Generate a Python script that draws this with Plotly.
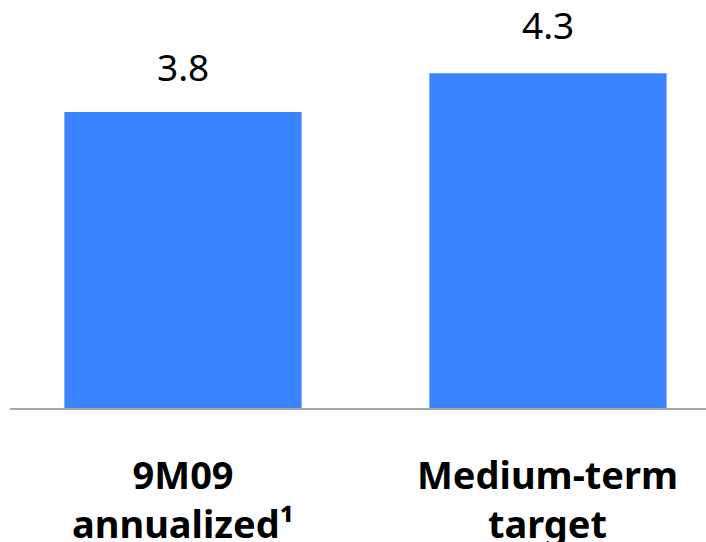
import plotly.graph_objects as go

categories = ["9M09<br>annualized¹", "Medium-term<br>target"]
values = [3.8, 4.3]
value_labels = ["3.8", "4.3"]

BAR_COLOR = "#3A83FF"
positions = list(range(len(categories)))

fig = go.Figure(
    go.Bar(
        x=positions,
        y=values,
        width=0.65,
        marker=dict(color=BAR_COLOR, line=dict(width=0)),
        hoverinfo="skip",
    )
)

# value labels above each bar
label_shift = [18, 21]
for xi, v, t, s in zip(positions, values, value_labels, label_shift):
    fig.add_annotation(
        x=xi, y=v, text=t, showarrow=False, yanchor="bottom", yshift=s,
        font=dict(family="Noto Sans", size=37, color="#000000"),
    )

# category labels under the baseline
for xi, c in zip(positions, categories):
    fig.add_annotation(
        x=xi, y=0, yref="y", text=c, showarrow=False, yanchor="top", yshift=-38,
        font=dict(family="Noto Sans", size=38, color="#000000", weight="bold"),
    )

fig.update_layout(
    width=706,
    height=542,
    margin=dict(l=10, r=0, t=0, b=134),
    paper_bgcolor="white",
    plot_bgcolor="white",
    showlegend=False,
    xaxis=dict(
        range=[-0.474, 1.433],
        showgrid=False, zeroline=False, showticklabels=False, ticks="",
        showline=True, linecolor="#A6A6A6", linewidth=2, layer="below traces",
        fixedrange=True,
    ),
    yaxis=dict(
        range=[0, 5.24],
        showgrid=False, zeroline=False, showticklabels=False, ticks="",
        showline=False, fixedrange=True,
    ),
)

fig.write_html("out.html")
